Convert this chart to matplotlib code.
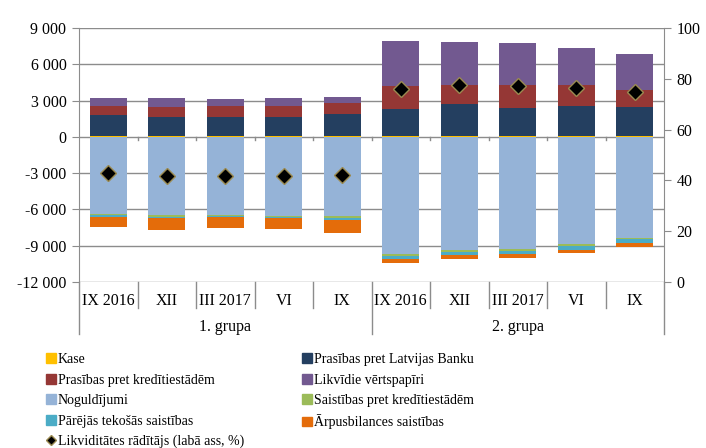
import matplotlib
matplotlib.use("Agg")
import matplotlib.pyplot as plt
from matplotlib.lines import Line2D
from matplotlib.patches import Patch
import matplotlib.transforms as mtransforms
import numpy as np

plt.rcParams['font.family'] = ['Liberation Serif', 'DejaVu Serif']

# ---- data (mln EUR, ratio in %) ----
categories = ["IX 2016", "XII", "III 2017", "VI", "IX",
              "IX 2016", "XII", "III 2017", "VI", "IX"]
groups = ["1. grupa", "2. grupa"]

kase = [90, 90, 90, 90, 90, 70, 70, 70, 70, 70]
prasibas_lb = [1700, 1540, 1540, 1540, 1780, 2220, 2660, 2330, 2490, 2380]
prasibas_kred = [790, 870, 960, 960, 910, 1950, 1590, 1920, 1760, 1460]
likvidie = [640, 720, 550, 630, 520, 3690, 3530, 3440, 3030, 2950]
noguldijumi = [-6390, -6420, -6440, -6550, -6580, -9690, -9360, -9310, -8870, -8340]
saistibas_kred = [-80, -165, -110, -100, -140, -165, -140, -140, -165, -110]
parejas = [-150, -135, -110, -90, -140, -220, -275, -250, -300, -330]
arpusbilances = [-830, -1020, -850, -910, -1050, -360, -360, -330, -250, -330]
ratio = [42.8, 41.6, 41.6, 41.6, 42.0, 75.9, 77.6, 77.2, 76.4, 74.7]

pos_series = [
    ("Kase", kase, "#FFC000"),
    ("Prasības pret Latvijas Banku", prasibas_lb, "#243F60"),
    ("Prasības pret kredītiestādēm", prasibas_kred, "#953735"),
    ("Likvīdie vērtspapīri", likvidie, "#725990"),
]
neg_series = [
    ("Noguldījumi", noguldijumi, "#95B3D7"),
    ("Saistības pret kredītiestādēm", saistibas_kred, "#9BBB59"),
    ("Pārējās tekošās saistības", parejas, "#4BACC6"),
    ("Ārpusbilances saistības", arpusbilances, "#E46C0A"),
]

fig = plt.figure(figsize=(7.06, 4.48), dpi=100)
ax = fig.add_axes([79 / 706, 1 - 282 / 448, 585 / 706, 254 / 448])
ax2 = ax.twinx()

x = np.arange(len(categories))
width = 0.63
grid_c = "#8C8C8C"

handles = {}
bottom = np.zeros(len(x))
for name, vals, col in pos_series:
    ax.bar(x, vals, width, bottom=bottom, color=col, linewidth=0, zorder=3)
    bottom += np.array(vals)
    handles[name] = Patch(color=col)
bottom = np.zeros(len(x))
for name, vals, col in neg_series:
    ax.bar(x, vals, width, bottom=bottom, color=col, linewidth=0, zorder=3)
    bottom += np.array(vals)
    handles[name] = Patch(color=col)

ax.set_xlim(-0.5, len(x) - 0.5)
ax.set_ylim(-12000, 9000)
yt = np.arange(-12000, 9001, 3000)
ax.set_yticks(yt)
ax.set_yticklabels([f"{v:,}".replace(",", " ") for v in yt])
ax.yaxis.grid(True, color=grid_c, linewidth=1, zorder=0)
ax.set_axisbelow(True)
ax.set_xticks([])
for s in ["top", "bottom", "right"]:
    ax.spines[s].set_visible(False)
ax.spines["left"].set_color(grid_c)
ax.tick_params(axis="y", length=5, color=grid_c, labelsize=11.5, pad=4)

# small ticks on the zero line between categories
for b in np.arange(0.5, len(x) - 1, 1.0):
    ax.plot([b, b], [0, -220], color=grid_c, linewidth=1, zorder=2)

# right axis with liquidity ratio
ax2.set_ylim(0, 100)
ax2.set_yticks(np.arange(0, 101, 20))
ax2.plot(x, ratio, linestyle="none", marker="D", markersize=8,
         markerfacecolor="black", markeredgecolor="#9A8A50", markeredgewidth=1, zorder=5)
for s in ["top", "bottom", "left"]:
    ax2.spines[s].set_visible(False)
ax2.spines["right"].set_color(grid_c)
ax2.spines["right"].set_bounds(0, 100)
ax2.tick_params(axis="y", length=5, color=grid_c, labelsize=11.5, pad=4)

# multi-level category labels below the plot
trans = mtransforms.blended_transform_factory(ax.transData, ax.transAxes)
for i, lab in enumerate(categories):
    ax.text(i, -0.074, lab, transform=trans, ha="center", va="center", fontsize=11.5)
for b in np.arange(-0.5, len(x), 1.0):
    low = -0.205 if b in (-0.5, 4.5, len(x) - 0.5) else -0.102
    ax.add_line(Line2D([b, b], [0, low], transform=trans, color=grid_c,
                       linewidth=1, clip_on=False))
for g, lab in enumerate(groups):
    ax.text(2 + 5 * g, -0.176, lab, transform=trans, ha="center", va="center", fontsize=11.5)

# legend, two columns as two legends
handles["Likviditātes rādītājs (labā ass, %)"] = Line2D(
    [], [], linestyle="none", marker="D", markersize=5,
    markerfacecolor="black", markeredgecolor="#9A8A50")
col1 = ["Kase", "Prasības pret kredītiestādēm", "Noguldījumi",
        "Pārējās tekošās saistības", "Likviditātes rādītājs (labā ass, %)"]
col2 = ["Prasības pret Latvijas Banku", "Likvīdie vērtspapīri",
        "Saistības pret kredītiestādēm", "Ārpusbilances saistības"]
leg_kw = dict(loc="upper left", frameon=False, fontsize=10, handlelength=0.7,
              handleheight=0.7, handletextpad=0.15, labelspacing=0.54,
              borderpad=0, borderaxespad=0)
fig.legend([handles[k] for k in col1], col1,
           bbox_to_anchor=(46 / 706, 1 - 353 / 448), **leg_kw)
fig.legend([handles[k] for k in col2], col2,
           bbox_to_anchor=(302 / 706, 1 - 353 / 448), **leg_kw)

fig.savefig("out.png", dpi=100)
